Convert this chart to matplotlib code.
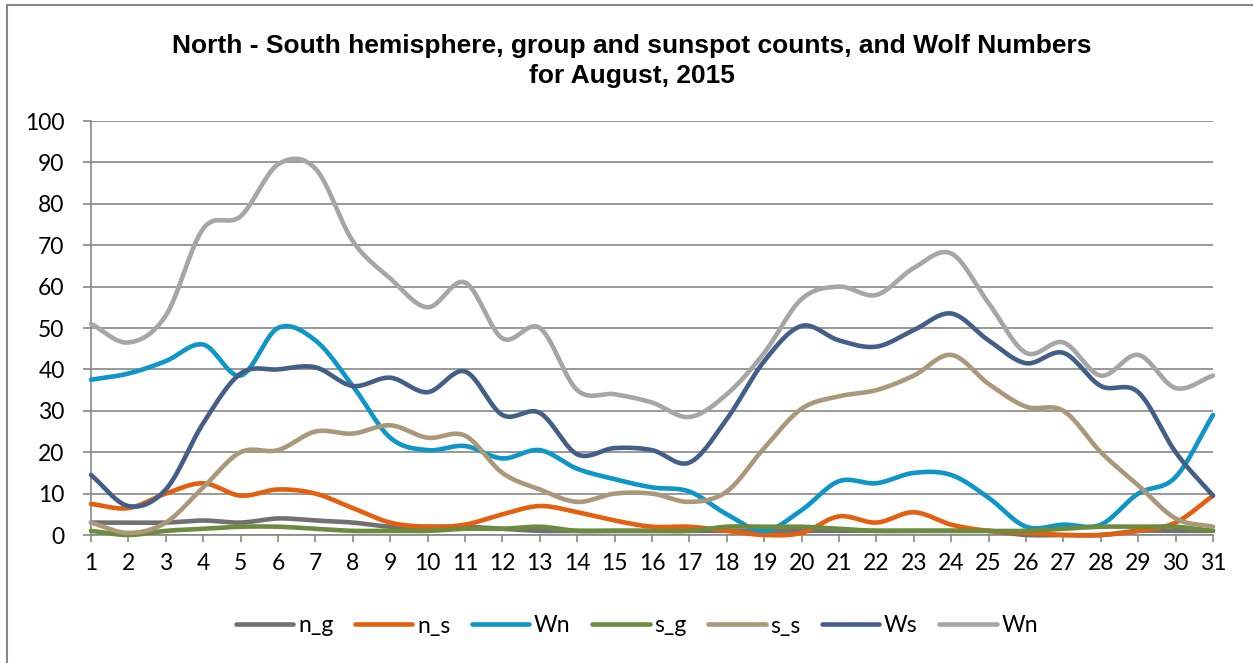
import matplotlib
matplotlib.use("Agg")
import matplotlib.pyplot as plt
import matplotlib.patches as patches
import numpy as np

days = list(range(1, 32))

n_g = [3, 3, 3, 3.5, 3, 4, 3.5, 3, 2, 2, 2, 1.5, 1, 1, 1, 1,
       1, 1, 1, 1, 1, 1, 1, 1, 1, 0, 0, 0, 1, 1, 1]
n_s = [7.5, 6.5, 10, 12.5, 9.5, 11, 10, 6.5, 3, 2, 2.5, 5, 7, 5.5, 3.5, 2,
       2, 1, 0, 0.5, 4.5, 3, 5.5, 2.5, 1, 0.5, 0, 0, 1, 3, 9.5]
wn_n = [37.5, 39, 42, 46, 38.5, 50, 47, 36, 23.5, 20.5, 21.5, 18.5, 20.5, 16, 13.5, 11.5,
        10.5, 5, 1, 6, 13, 12.5, 15, 14.5, 9, 2, 2.5, 2.5, 10, 14, 29]
s_g = [1, 0, 1, 1.5, 2, 2, 1.5, 1, 1, 1, 1.5, 1.5, 2, 1, 1, 1,
       1, 2, 2, 2, 1.5, 1, 1, 1, 1, 1, 1.5, 2, 2, 2, 1]
s_s = [3, 0.5, 3, 11.5, 20, 20.5, 25, 24.5, 26.5, 23.5, 24, 15, 11, 8, 10, 10,
       8, 10.5, 21, 30.5, 33.5, 35, 38.5, 43.5, 36.5, 31, 30, 20, 12, 4, 2]
ws = [14.5, 7, 11, 27, 39, 40, 40.5, 36, 38, 34.5, 39.5, 29, 29.5, 19.5, 21, 20.5,
      17.5, 28, 42, 50.5, 47, 45.5, 49.5, 53.5, 47, 41.5, 44, 36, 34.5, 20, 9.5]
wn = [51, 46.5, 53, 74, 77, 89.5, 88.5, 71, 62, 55, 61, 47.5, 50, 35, 34, 32,
      28.5, 34, 44, 57, 60, 58, 64.5, 68, 56, 44, 46.5, 38.5, 43.5, 35.5, 38.5]

series = [
    ("n_g", n_g, "#717171"),
    ("n_s", n_s, "#E2600F"),
    ("Wn", wn_n, "#0E96C8"),
    ("s_g", s_g, "#6C8B3C"),
    ("s_s", s_s, "#AA987A"),
    ("Ws", ws, "#435F88"),
    ("Wn", wn, "#A6A6A6"),
]


def smooth(x, y, n=24):
    # Catmull-Rom through the points, like Excel's smoothed line
    x = np.asarray(x, float)
    y = np.asarray(y, float)
    px = np.concatenate([[2 * x[0] - x[1]], x, [2 * x[-1] - x[-2]]])
    py = np.concatenate([[2 * y[0] - y[1]], y, [2 * y[-1] - y[-2]]])
    xs, ys = [], []
    t = np.linspace(0, 1, n, endpoint=False)
    for i in range(1, len(px) - 2):
        for p, out in ((px, xs), (py, ys)):
            p0, p1, p2, p3 = p[i - 1], p[i], p[i + 1], p[i + 2]
            out.append(0.5 * ((2 * p1) + (-p0 + p2) * t
                              + (2 * p0 - 5 * p1 + 4 * p2 - p3) * t ** 2
                              + (-p0 + 3 * p1 - 3 * p2 + p3) * t ** 3))
    xs.append([x[-1]])
    ys.append([y[-1]])
    return np.concatenate(xs), np.concatenate(ys)


plt.rcParams["font.family"] = ["Lato", "DejaVu Sans"]
grid_c = "#878787"

fig = plt.figure(figsize=(12.53, 6.63), dpi=100)
ax = fig.add_axes([91 / 1253, 1 - 535 / 663, (1213 - 91) / 1253, (535 - 121) / 663])

for label, vals, color in series:
    sx, sy = smooth(days, vals)
    ax.plot(sx, sy, color=color, lw=3.3, label=label, clip_on=False,
            solid_capstyle="round", zorder=3)

ax.set_xlim(1, 31)
ax.set_ylim(0, 100)
ax.set_yticks(range(0, 101, 10))
ax.set_xticks(days)
ax.grid(axis="y", color=grid_c, lw=1.2)
ax.set_axisbelow(True)
for side in ("top", "right"):
    ax.spines[side].set_visible(False)
for side in ("left", "bottom"):
    ax.spines[side].set_color(grid_c)
    ax.spines[side].set_linewidth(1.2)
ax.tick_params(axis="y", length=6, width=1.2, color=grid_c, labelsize=16.5, pad=13)
ax.tick_params(axis="x", length=5, width=1.2, color=grid_c, labelsize=16.5, pad=8)

fig.text(0.504, 0.908,
         "North - South hemisphere, group and sunspot counts, and Wolf Numbers\nfor August, 2015",
         ha="center", va="center", fontsize=19, fontweight="bold",
         family=["Liberation Sans", "DejaVu Sans"], linespacing=1.32)

fig.legend(loc="center", bbox_to_anchor=(637 / 1253, 1 - 626 / 663), ncol=7,
           frameon=False, fontsize=16.5, handlelength=2.5, handletextpad=0.2,
           columnspacing=0.95)

fig.patches.append(patches.Rectangle((7 / 1253, -0.1), 1.2, (1 - 5 / 663) + 0.1,
                                     transform=fig.transFigure, fill=False,
                                     edgecolor=grid_c, lw=1.5))

fig.savefig("out.png", dpi=100)
